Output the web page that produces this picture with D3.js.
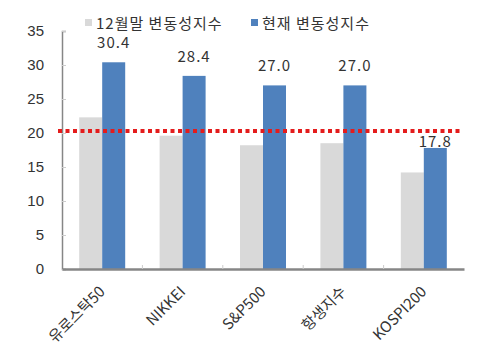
<!DOCTYPE html>
<html>
<head>
<meta charset="utf-8">
<script src="https://cdn.jsdelivr.net/npm/d3@7"></script>
<style>
  body { margin: 0; background: #fff; }
  text { font-family: "Noto Sans CJK KR", "DejaVu Sans", sans-serif; fill: #333; }
</style>
</head>
<body>
<div id="chart"></div>
<script>
// data
const categories = ["유로스탁50", "NIKKEI", "S&P500", "항생지수", "KOSPI200"];
const seriesNames = ["12월말 변동성지수", "현재 변동성지수"];
const decValues = [22.3, 19.6, 18.2, 18.5, 14.2];
const nowValues = [30.4, 28.4, 27.0, 27.0, 17.8];
const refLevel = 20.3;
const yTicks = [0, 5, 10, 15, 20, 25, 30, 35];

const colors = ["#d9d9d9", "#4f81bd"];

const W = 478, H = 352;
const margin = {top: 31, right: 14, bottom: 83, left: 62};
const width = W - margin.left - margin.right;
const height = H - margin.top - margin.bottom;

const svg = d3.select("#chart").append("svg")
  .attr("width", W).attr("height", H);

const g = svg.append("g")
  .attr("transform", "translate(" + margin.left + "," + margin.top + ")");

const x = d3.scaleBand().domain(categories).range([0, width]);
const x1 = d3.scaleBand().domain([0, 1]).range([0, 46]);
const y = d3.scaleLinear().domain([0, 35]).range([height, 0]);

// bars
const series = [decValues, nowValues];
series.forEach((vals, s) => {
  g.selectAll(".bar" + s)
    .data(vals)
    .enter().append("rect")
    .attr("x", (d, i) => x(categories[i]) + x.bandwidth() / 2 - 23 + x1(s))
    .attr("width", x1.bandwidth())
    .attr("y", d => y(d))
    .attr("height", d => height - y(d))
    .attr("fill", colors[s]);
});

// y axis (ticks point inward)
const yAxis = g.append("g")
  .call(d3.axisLeft(y).tickValues(yTicks).tickSize(-4).tickPadding(18));
yAxis.select(".domain").attr("stroke", "#868686").attr("stroke-width", 1.5);
yAxis.selectAll(".tick line").attr("stroke", "#ccc");
yAxis.selectAll("text")
  .style("font-size", "15px")
  .style("font-family", "Liberation Sans, Arial, sans-serif")
  .attr("fill", "#333");

// x axis
const xAxis = g.append("g")
  .attr("transform", "translate(0," + height + ")")
  .call(d3.axisBottom(x).tickSize(0));
xAxis.select(".domain").attr("stroke", "#868686").attr("stroke-width", 2.5);
xAxis.selectAll("text")
  .style("font-size", "15px")
  .attr("fill", "#333")
  .attr("text-anchor", "end")
  .attr("x", 0).attr("y", 0)
  .attr("dy", "0.35em")
  .attr("transform", "translate(0,20) rotate(-45)");

// small ticks between categories
g.selectAll(".sep")
  .data(categories.slice(1))
  .enter().append("line")
  .attr("x1", d => x(d)).attr("x2", d => x(d))
  .attr("y1", height).attr("y2", height - 4)
  .attr("stroke", "#ccc");

// red dotted reference line
g.append("line")
  .attr("x1", -4).attr("x2", width - 2)
  .attr("y1", y(refLevel)).attr("y2", y(refLevel))
  .attr("stroke", "#e41c1c")
  .attr("stroke-width", 4)
  .attr("stroke-dasharray", "4,3.5");

// value labels for current series; a label sitting under the red line hugs its bar
g.selectAll(".vlabel")
  .data(nowValues)
  .enter().append("text")
  .attr("x", (d, i) => x(categories[i]) + x.bandwidth() / 2 + 11.5)
  .attr("y", d => y(d) - (d < refLevel ? 1 : 14))
  .attr("text-anchor", "middle")
  .style("font-size", "15px")
  .style("letter-spacing", "1px")
  .text(d => d.toFixed(1));

// legend
const legendX = [85, 251];
seriesNames.forEach((name, s) => {
  svg.append("rect")
    .attr("x", legendX[s]).attr("y", 19)
    .attr("width", 7).attr("height", 7)
    .attr("fill", colors[s]);
  svg.append("text")
    .attr("x", legendX[s] + 11).attr("y", 29)
    .style("font-size", "15px")
    .style("letter-spacing", "1px")
    .text(name);
});
</script>
</body>
</html>
